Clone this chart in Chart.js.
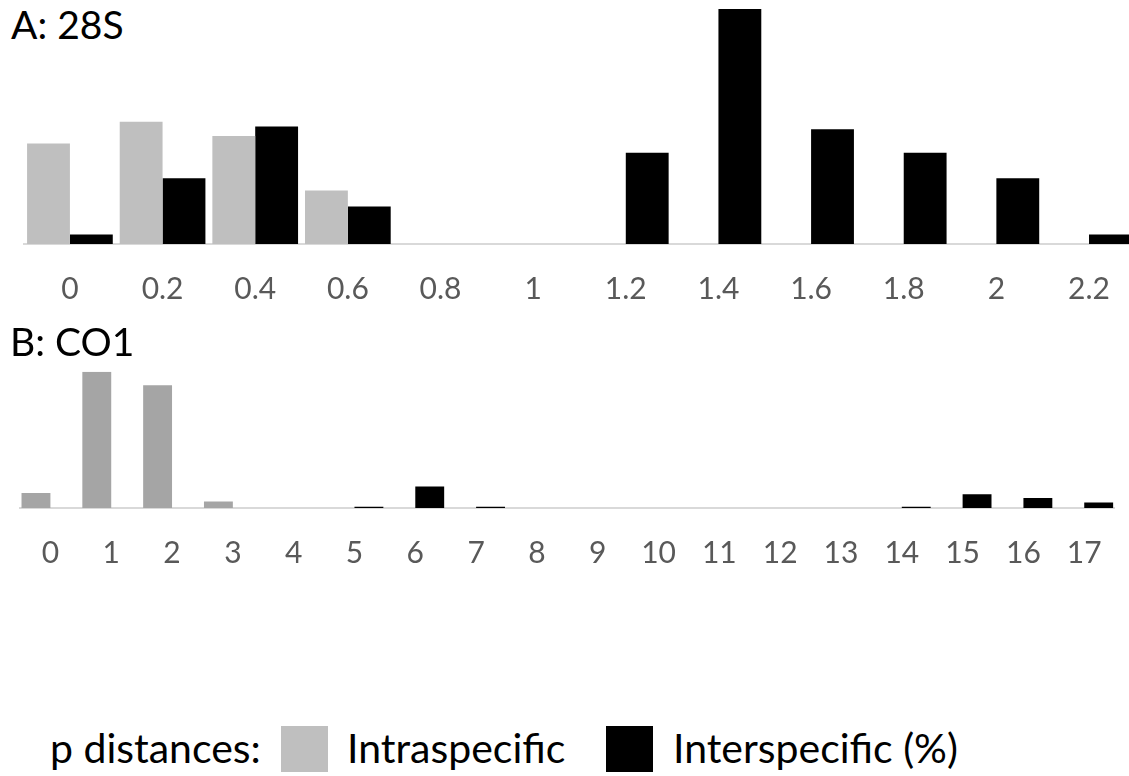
<!DOCTYPE html>
<html>
<head>
<meta charset="utf-8">
<script src="https://cdn.jsdelivr.net/npm/chart.js@4/dist/chart.umd.min.js"></script>
<style>
  html, body { margin: 0; padding: 0; width: 1129px; height: 776px; overflow: hidden; background: #fff; font-family: Lato, "Open Sans", sans-serif; }
  canvas { position: absolute; }
  .t { position: absolute; font-size: 39px; line-height: 39px; color: #000; white-space: nowrap; }
  .lg { position: absolute; font-size: 41px; line-height: 41px; color: #000; white-space: nowrap; top: 727px; }
  .sq { position: absolute; width: 47px; height: 46px; top: 726px; }
</style>
</head>
<body>
<div class="t" id="titleA" style="left:11px; top:5px;">A: 28S</div>
<canvas id="chartA" width="1137" height="334" style="left:0; top:0;"></canvas>
<div class="t" id="titleB" style="left:10px; top:322px;">B: CO1</div>
<canvas id="chartB" width="1129" height="268" style="left:0; top:330px;"></canvas>

<div class="lg" style="left:50px;">p distances:</div>
<div class="sq" style="left:281px; background:#bfbfbf;"></div>
<div class="lg" style="left:347px;">Intraspecific</div>
<div class="sq" style="left:606px; background:#000;"></div>
<div class="lg" style="left:673px;">Interspecific (%)</div>

<script>
// Panel A: 28S
const catsA = ['0', '0.2', '0.4', '0.6', '0.8', '1', '1.2', '1.4', '1.6', '1.8', '2', '2.2'];
const intraA = [10.7, 13.0, 11.5, 5.7, 0, 0, 0, 0, 0, 0, 0, 0];
const interA = [1.0, 7.0, 12.5, 4.0, 0, 0, 9.7, 25.0, 12.2, 9.7, 7.0, 1.0];

// Panel B: CO1
const catsB = ['0', '1', '2', '3', '4', '5', '6', '7', '8', '9', '10', '11', '12', '13', '14', '15', '16', '17'];
const intraB = [4.4, 40.0, 36.0, 1.9, 0, 0, 0, 0, 0, 0, 0, 0, 0, 0, 0, 0, 0, 0];
const interB = [0, 0, 0, 0, 0, 0.4, 6.3, 0.4, 0, 0, 0, 0, 0, 0, 0.4, 4.0, 2.9, 1.6];

Chart.defaults.font.family = 'Lato, "Open Sans", sans-serif';
Chart.defaults.animation = false;

function makeChart(id, cats, intra, inter, grayColor, yMax, catPct, pad) {
  return new Chart(document.getElementById(id), {
    type: 'bar',
    data: {
      labels: cats,
      datasets: [
        { label: 'Intraspecific', data: intra, backgroundColor: grayColor, borderWidth: 0, barPercentage: 1, categoryPercentage: catPct },
        { label: 'Interspecific (%)', data: inter, backgroundColor: '#000000', borderWidth: 0, barPercentage: 1, categoryPercentage: catPct }
      ]
    },
    options: {
      responsive: false,
      animation: false,
      layout: { padding: pad },
      plugins: { legend: { display: false }, tooltip: { enabled: false }, title: { display: false } },
      scales: {
        x: {
          grid: { display: false, drawTicks: false },
          border: { display: true, color: '#d9d9d9', width: 2 },
          ticks: { color: '#595959', font: { size: 30 }, padding: 27, maxRotation: 0, autoSkip: false }
        },
        y: { display: false, min: 0, max: yMax }
      }
    }
  });
}

makeChart('chartA', catsA, intraA, interA, '#bfbfbf', 25, 0.925, { top: 9, left: 23.6, right: 1, bottom: 0 });
makeChart('chartB', catsB, intraB, interB, '#a5a5a5', 40, 0.95, { top: 41.7, left: 20, right: 13, bottom: 0 });
</script>
</body>
</html>
